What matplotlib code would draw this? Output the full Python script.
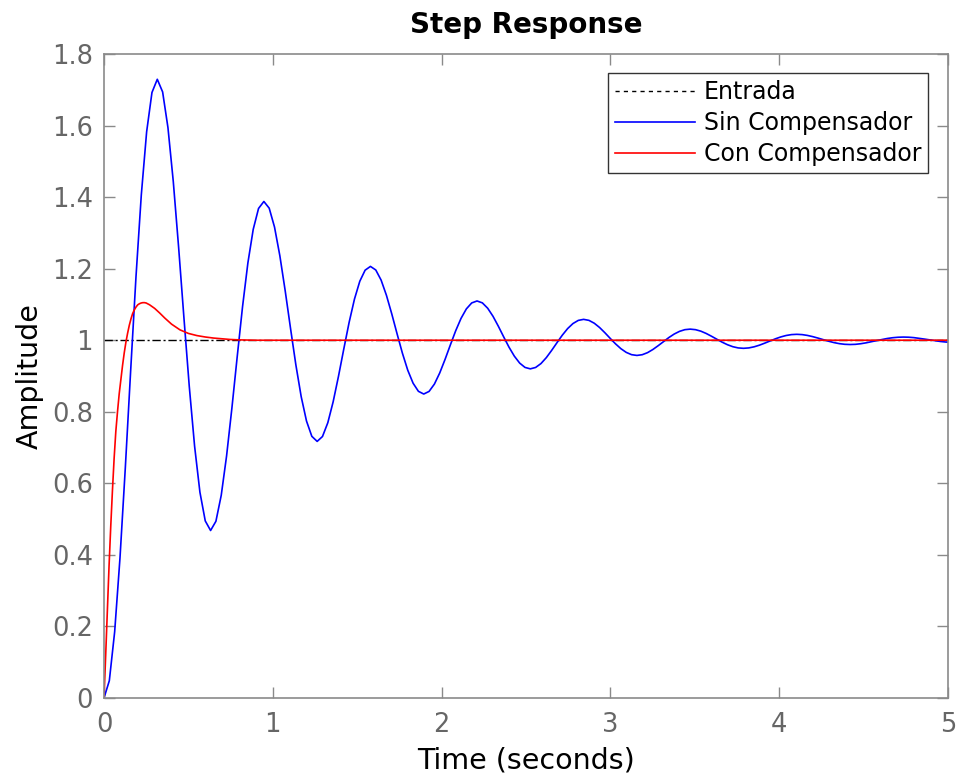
import numpy as np
import matplotlib
matplotlib.use("Agg")
import matplotlib.pyplot as plt
from matplotlib.lines import Line2D

# ---- data ----
t_step = 0.03157  # sample spacing of the uncompensated response (s)
sin_comp = [
    0.0000, 0.0484, 0.1850, 0.3915, 0.6434, 0.9142, 1.1767, 1.4061, 1.5825, 1.6924,
    1.7293, 1.6940, 1.5943, 1.4438, 1.2601, 1.0626, 0.8712, 0.7039, 0.5752, 0.4950,
    0.4682, 0.4939, 0.5666, 0.6764, 0.8103, 0.9544, 1.0940, 1.2160, 1.3098, 1.3683,
    1.3878, 1.3691, 1.3161, 1.2360, 1.1383, 1.0333, 0.9315, 0.8425, 0.7741, 0.7314,
    0.7172, 0.7309, 0.7695, 0.8279, 0.8991, 0.9757, 1.0500, 1.1149, 1.1648, 1.1958,
    1.2063, 1.1963, 1.1681, 1.1255, 1.0736, 1.0177, 0.9636, 0.9162, 0.8799, 0.8572,
    0.8496, 0.8569, 0.8774, 0.9085, 0.9464, 0.9871, 1.0266, 1.0611, 1.0876, 1.1042,
    1.1097, 1.1044, 1.0894, 1.0668, 1.0391, 1.0094, 0.9806, 0.9555, 0.9361, 0.9240,
    0.9200, 0.9239, 0.9348, 0.9513, 0.9715, 0.9931, 1.0141, 1.0325, 1.0466, 1.0554,
    1.0583, 1.0555, 1.0475, 1.0355, 1.0208, 1.0050, 0.9897, 0.9763, 0.9660, 0.9596,
    0.9575, 0.9595, 0.9653, 0.9741, 0.9848, 0.9963, 1.0075, 1.0173, 1.0248, 1.0295,
    1.0310, 1.0295, 1.0253, 1.0189, 1.0111, 1.0027, 0.9945, 0.9874, 0.9819, 0.9785,
    0.9774, 0.9785, 0.9816, 0.9862, 0.9919, 0.9981, 1.0040, 1.0092, 1.0132, 1.0157,
    1.0165, 1.0157, 1.0134, 1.0100, 1.0059, 1.0014, 0.9971, 0.9933, 0.9904, 0.9886,
    0.9880, 0.9885, 0.9902, 0.9927, 0.9957, 0.9990, 1.0021, 1.0049, 1.0070, 1.0083,
    1.0088, 1.0084, 1.0072, 1.0053, 1.0031, 1.0008, 0.9984, 0.9964, 0.9949, 0.9939,
]
con_t = [0.00, 0.01, 0.02, 0.03, 0.04, 0.05, 0.06, 0.07, 0.08, 0.09, 0.10, 0.11,
         0.12, 0.13, 0.14, 0.15, 0.16, 0.17, 0.18, 0.19, 0.20, 0.21, 0.22, 0.23,
         0.24, 0.25, 0.27, 0.30, 0.33, 0.36, 0.40, 0.45, 0.50, 0.55, 0.60, 0.65,
         0.70, 0.75, 0.80, 0.90, 5.00]
con_comp = [0.000, 0.120, 0.245, 0.370, 0.480, 0.580, 0.670, 0.745, 0.800, 0.850,
            0.890, 0.930, 0.965, 0.995, 1.020, 1.042, 1.060, 1.075, 1.085, 1.093,
            1.099, 1.102, 1.104, 1.105, 1.105, 1.104, 1.099, 1.089, 1.076, 1.062,
            1.045, 1.029, 1.019, 1.013, 1.009, 1.006, 1.004, 1.002, 1.001, 1.000,
            1.000]
entrada_t = [0.0, 5.0]
entrada = [1.0, 1.0]

x_ticks = [0, 1, 2, 3, 4, 5]
y_ticks = [0, 0.2, 0.4, 0.6, 0.8, 1, 1.2, 1.4, 1.6, 1.8]
y_tick_labels = ["0", "0.2", "0.4", "0.6", "0.8", "1", "1.2", "1.4", "1.6", "1.8"]
x_tick_labels = ["0", "1", "2", "3", "4", "5"]

# ---- plot ----
plt.rcParams['font.family'] = ['DejaVu Sans']
fig = plt.figure(figsize=(9.56, 7.74), dpi=100)
ax = fig.add_axes([104/956, 1-698/774, (948-104)/956, (698-54)/774])

t_sin = np.arange(len(sin_comp)) * t_step
ax.plot(entrada_t, entrada, color='black', lw=1.0, linestyle=(0, (6, 2, 1.5, 2)))
ax.plot(t_sin, sin_comp, color='#0000ff', lw=1.2)
ax.plot(con_t, con_comp, color='#ff0000', lw=1.2)

ax.set_xlim(0, 5)
ax.set_ylim(0, 1.8)
ax.set_xticks(x_ticks)
ax.set_xticklabels(x_tick_labels)
ax.set_yticks(y_ticks)
ax.set_yticklabels(y_tick_labels)

grey = '#8a8a8a'
for s in ax.spines.values():
    s.set_color(grey)
    s.set_linewidth(1.2)
ax.tick_params(direction='in', length=8, width=1.0, color=grey, labelcolor='#666666',
               labelsize=18.5, top=True, right=True)
ax.tick_params(axis='x', pad=10)
ax.tick_params(axis='y', pad=8)

ax.set_xlabel('Time (seconds)', fontsize=20.5, color='black', labelpad=6)
ax.set_ylabel('Amplitude', fontsize=20.5, color='black', labelpad=6)
ax.set_title('Step Response', fontsize=20, fontweight='bold', color='black', pad=15)

handles = [
    Line2D([], [], color='black', lw=1.0, linestyle=(0, (3, 3))),
    Line2D([], [], color='#0000ff', lw=1.2),
    Line2D([], [], color='#ff0000', lw=1.2),
]
labels = ['Entrada', 'Sin Compensador', 'Con Compensador']
leg = ax.legend(handles, labels, loc='upper right', bbox_to_anchor=(0.9765, 0.9705),
                fontsize=17, frameon=True, fancybox=False, edgecolor='black',
                handlelength=3.4, handletextpad=0.35, borderpad=0.3, labelspacing=0.3,
                borderaxespad=0)
leg.get_frame().set_linewidth(1.0)

fig.savefig('out.png', dpi=100)
